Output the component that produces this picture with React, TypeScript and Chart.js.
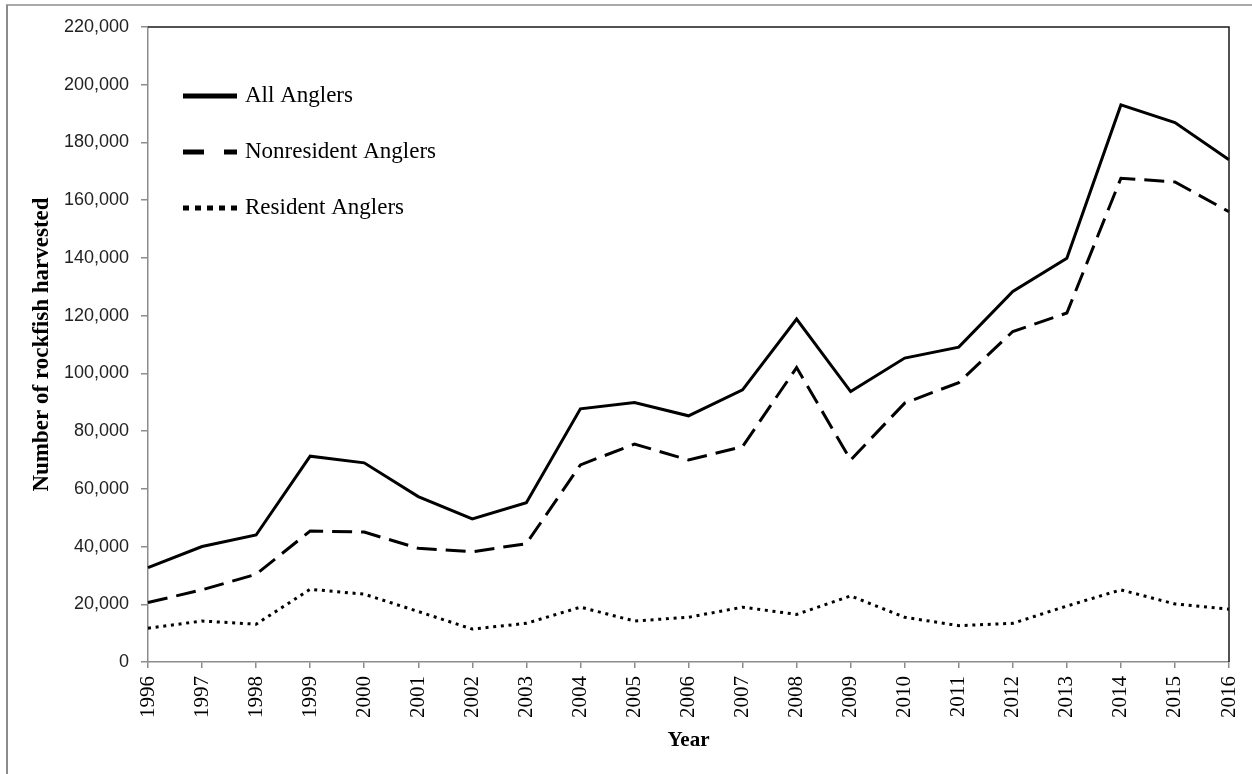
import React, { useEffect, useRef } from 'react';
import { Chart, registerables } from 'chart.js';

Chart.register(...registerables);

const years = ['1996', '1997', '1998', '1999', '2000', '2001', '2002', '2003', '2004', '2005', '2006', '2007', '2008', '2009', '2010', '2011', '2012', '2013', '2014', '2015', '2016'];

const allAnglers = [32700, 40000, 44000, 71300, 69000, 57300, 49600, 55200, 87700, 89900, 85300, 94300, 118800, 93700, 105300, 109100, 128400, 139900, 193000, 186900, 174000];
const nonresidentAnglers = [20600, 25000, 30400, 45400, 45000, 39400, 38200, 41000, 68300, 75500, 70000, 74600, 102000, 70000, 89700, 96800, 114500, 120900, 167600, 166300, 156000];
const residentAnglers = [11700, 14200, 13100, 25200, 23500, 17500, 11400, 13400, 19000, 14200, 15500, 19000, 16500, 22900, 15500, 12600, 13400, 19400, 25000, 20100, 18300];

const seriesNames = ['All Anglers', 'Nonresident Anglers', 'Resident Anglers'];
const yMin = 0;
const yMax = 220000;
const yStep = 20000;

const yTitle = 'Number of rockfish harvested';
const xTitle = 'Year';

export default function App() {
  const ref = useRef<HTMLCanvasElement>(null);

  useEffect(() => {
    const canvas = ref.current;
    if (!canvas) return;

    const legendDash: number[][] = [[], [21, 20], [6, 6]];
    const legendRowY = [96, 152, 208];

    const framePlugin = {
      id: 'frameAndLegend',
      beforeDraw(chart: any) {
        const ctx = chart.ctx;
        ctx.save();
        ctx.fillStyle = '#ffffff';
        ctx.fillRect(0, 0, chart.width, chart.height);
        ctx.strokeStyle = '#8c8c8c';
        ctx.lineWidth = 1.5;
        ctx.beginPath();
        ctx.moveTo(6, 5);
        ctx.lineTo(chart.width, 5);
        ctx.stroke();
        ctx.lineWidth = 2;
        ctx.beginPath();
        ctx.moveTo(7, 5);
        ctx.lineTo(7, chart.height);
        ctx.stroke();
        ctx.restore();
      },
      afterDraw(chart: any) {
        const ctx = chart.ctx;
        const a = chart.chartArea;
        ctx.save();
        ctx.strokeStyle = '#1a1a1a';
        ctx.lineWidth = 1.5;
        ctx.beginPath();
        ctx.moveTo(a.left, a.top);
        ctx.lineTo(a.right, a.top);
        ctx.lineTo(a.right, a.bottom);
        ctx.stroke();

        const x0 = a.left + 35;
        const x1 = x0 + 54;
        chart.data.datasets.forEach((ds: any, i: number) => {
          const y = legendRowY[i];
          ctx.strokeStyle = '#000';
          ctx.lineWidth = 5;
          ctx.lineCap = 'butt';
          ctx.setLineDash(legendDash[i]);
          ctx.beginPath();
          ctx.moveTo(x0, y);
          ctx.lineTo(x1, y);
          ctx.stroke();
          ctx.setLineDash([]);
          ctx.fillStyle = '#000';
          ctx.font = '23px "Liberation Serif", "Times New Roman", serif';
          ctx.textBaseline = 'middle';
          ctx.textAlign = 'left';
          ctx.fillText(ds.label, x1 + 8, y);
        });
        ctx.restore();
      },
    };

    const chart = new Chart(canvas, {
      type: 'line',
      data: {
        labels: years,
        datasets: [
          {
            label: seriesNames[0],
            data: allAnglers,
            borderColor: '#000',
            borderWidth: 3,
            pointRadius: 0,
            tension: 0,
            fill: false,
          },
          {
            label: seriesNames[1],
            data: nonresidentAnglers,
            borderColor: '#000',
            borderWidth: 3,
            borderDash: [20, 9],
            pointRadius: 0,
            tension: 0,
            fill: false,
          },
          {
            label: seriesNames[2],
            data: residentAnglers,
            borderColor: '#000',
            borderWidth: 3,
            borderDash: [3, 4.7],
            pointRadius: 0,
            tension: 0,
            fill: false,
          },
        ],
      },
      options: {
        responsive: false,
        animation: false,
        events: [],
        layout: { padding: { top: 27, right: 23, left: 0, bottom: 0 } },
        plugins: {
          legend: { display: false },
          tooltip: { enabled: false },
          title: { display: false },
        },
        scales: {
          x: {
            type: 'category',
            offset: false,
            afterFit: (s: any) => {
              s.height = 112;
              s.paddingLeft = 0;
              s.paddingRight = 0;
            },
            grid: {
              display: true,
              drawOnChartArea: false,
              drawTicks: true,
              tickLength: 6,
              color: '#8c8c8c',
              lineWidth: 1.5,
            },
            border: { display: true, color: '#8c8c8c', width: 1.5 },
            ticks: {
              autoSkip: false,
              maxRotation: 90,
              minRotation: 90,
              padding: 8,
              color: '#000',
              font: { family: '"Liberation Serif", "Times New Roman", serif', size: 21 },
            },
            title: {
              display: true,
              text: xTitle,
              color: '#000',
              font: { family: '"Liberation Serif", "Times New Roman", serif', size: 21, weight: 'bold' },
              padding: { top: 0, bottom: 21 },
            },
          },
          y: {
            min: yMin,
            max: yMax,
            afterFit: (s: any) => {
              s.width = 148;
              s.paddingTop = 0;
              s.paddingBottom = 0;
            },
            grid: {
              display: true,
              drawOnChartArea: false,
              drawTicks: true,
              tickLength: 7,
              color: '#8c8c8c',
              lineWidth: 1.5,
            },
            border: { display: true, color: '#8c8c8c', width: 1.5 },
            ticks: {
              stepSize: yStep,
              padding: 12,
              color: '#222',
              font: { family: '"Liberation Sans", Arial, sans-serif', size: 18 },
              callback: (v: any) => Number(v).toLocaleString('en-US'),
            },
            title: {
              display: true,
              text: yTitle,
              color: '#000',
              font: { family: '"Liberation Serif", "Times New Roman", serif', size: 23, weight: 'bold' },
              padding: { top: 28, bottom: 0 },
            },
          },
        },
      },
      plugins: [framePlugin],
    });

    return () => {
      chart.destroy();
    };
  }, []);

  return (
    <div style={{ position: 'absolute', left: 0, top: 0, width: 1252, height: 774, background: '#fff' }}>
      <canvas ref={ref} width={1252} height={774} style={{ display: 'block', width: 1252, height: 774 }} />
    </div>
  );
}
